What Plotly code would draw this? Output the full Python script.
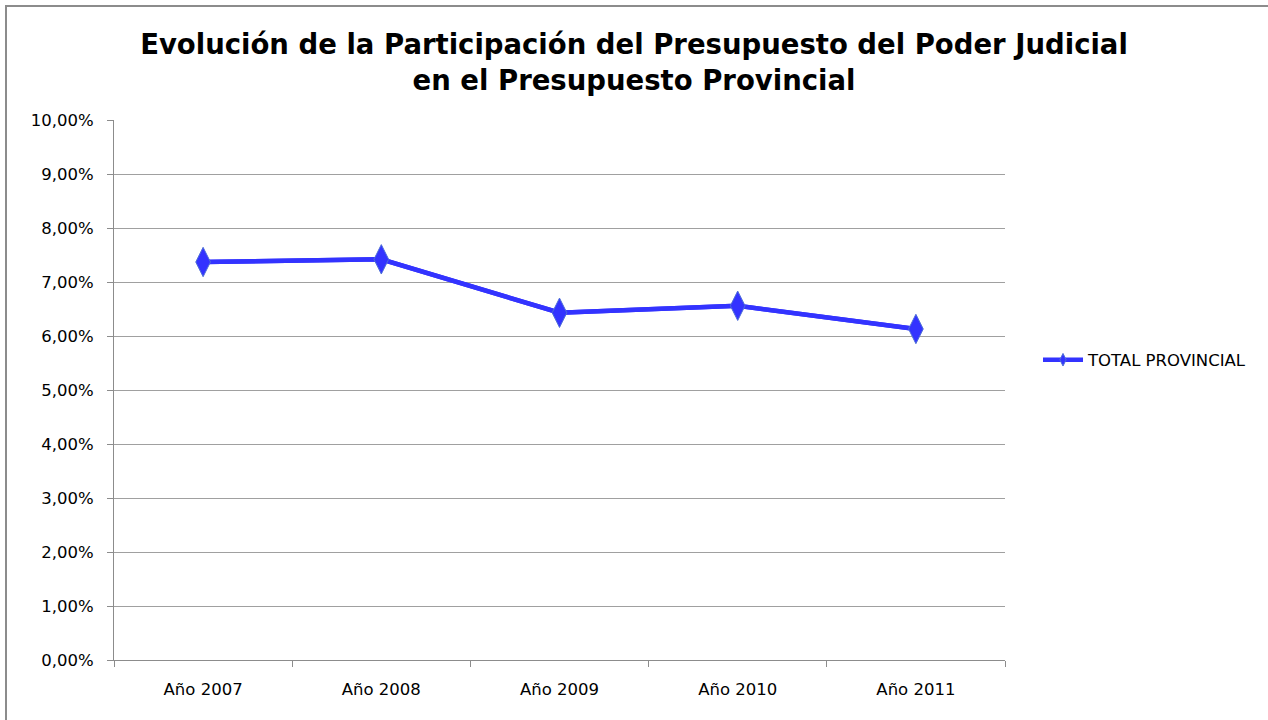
import plotly.graph_objects as go

categories = ["Año 2007", "Año 2008", "Año 2009", "Año 2010", "Año 2011"]
values = [7.37, 7.42, 6.43, 6.56, 6.13]
series_name = "TOTAL PROVINCIAL"
y_ticks = [i for i in range(0, 11)]
y_tick_labels = [f"{i},00%" for i in y_ticks]

FONT = "DejaVu Sans"
L, R, T, B = 114, 263, 120, 60
W, H = 1268, 720
pw, ph = W - L - R, H - T - B
BLUE = "#3333ff"

fig = go.Figure()
# legend entry (small marker, like the reference legend), drawn underneath
fig.add_trace(go.Scatter(
    x=categories, y=values, name=series_name, mode="lines+markers",
    legendgroup="tp", showlegend=True,
    line=dict(color=BLUE, width=4.5),
    marker=dict(symbol="diamond-tall", size=9, color=BLUE,
                line=dict(color="#4f6fd8", width=1)),
    hoverinfo="skip",
))
fig.add_trace(go.Scatter(
    x=categories, y=values, name=series_name, mode="lines+markers",
    legendgroup="tp", showlegend=False,
    line=dict(color=BLUE, width=4.5),
    marker=dict(symbol="diamond-tall", size=21, color=BLUE,
                line=dict(color="#4f6fd8", width=1)),
))

def px_x(p):
    return (p - L) / pw

def px_y(p):
    return (H - B - p) / ph

fig.update_layout(
    width=W, height=H,
    margin=dict(l=L, r=R, t=T, b=B),
    paper_bgcolor="white", plot_bgcolor="white",
    font=dict(family=FONT, size=16.5, color="black"),
    title=dict(
        text="<b>Evolución de la Participación del Presupuesto del Poder Judicial<br>en el Presupuesto Provincial</b>",
        x=0.5, xanchor="center", y=1 - 54 / H, yanchor="middle",
        font=dict(family=FONT, size=27.5, color="black"),
    ),
    showlegend=True,
    legend=dict(x=px_x(1038), y=px_y(360), xanchor="left", yanchor="middle",
                font=dict(family=FONT, size=16.5), bgcolor="rgba(0,0,0,0)",
                itemwidth=40),
    xaxis=dict(
        type="category", showgrid=False, showline=True, linecolor="#8c8c8c",
        linewidth=1, ticks="outside", tickson="boundaries", ticklen=6,
        tickcolor="#8c8c8c", range=[-0.5, 4.5], zeroline=False,
        ticklabelstandoff=14,
    ),
    yaxis=dict(
        range=[0, 10], tickvals=y_ticks, ticktext=y_tick_labels,
        showgrid=True, gridcolor="#a0a0a0", gridwidth=1,
        showline=True, linecolor="#8c8c8c", linewidth=1,
        ticks="outside", ticklen=6, tickcolor="#8c8c8c", zeroline=False,
        ticklabelstandoff=10,
    ),
    shapes=[dict(
        type="rect", xref="paper", yref="paper",
        x0=px_x(6), x1=px_x(1290), y0=px_y(740), y1=px_y(6),
        line=dict(color="#8c8c8c", width=2), fillcolor="rgba(0,0,0,0)",
        layer="below",
    )],
)

fig.write_html("out.html", config={"displayModeBar": False},
               post_script="document.body.style.margin='0';document.body.style.padding='0';")
